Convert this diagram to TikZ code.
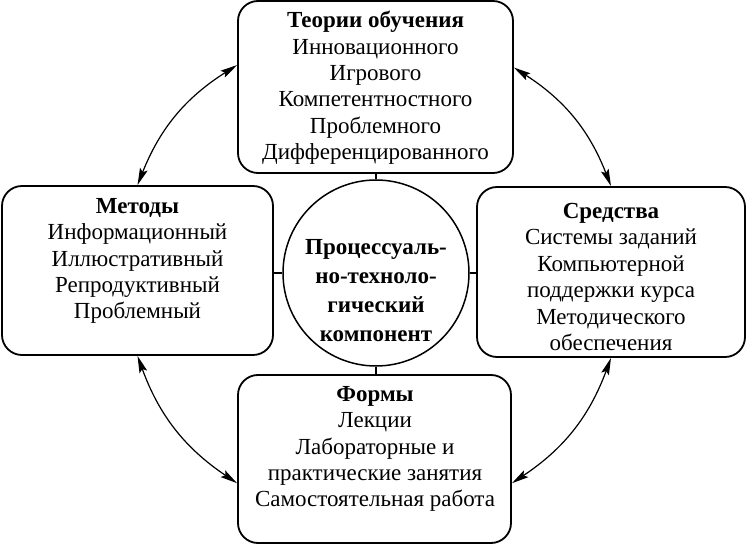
\documentclass[tikz,border=0pt]{standalone}
\usepackage{fontspec}
\setmainfont{Liberation Serif}
\usetikzlibrary{arrows.meta}
\begin{document}
\begin{tikzpicture}[x=1pt,y=-1pt,
  box/.style={draw, line width=1.8pt, rounded corners=20pt, inner sep=0pt},
  txt/.style={font=\fontsize{23}{26.4}\selectfont, align=center, inner sep=0pt},
  ctxt/.style={font=\bfseries\fontsize{23}{29}\selectfont, align=center, inner sep=0pt},
  stub/.style={line width=1.8pt},
  tip/.tip={Stealth[length=17pt,width=8pt,inset=3pt]},
  arr/.style={line width=1.2pt, tip-tip}]
\useasboundingbox (0,0) rectangle (748,545);
\node[box, minimum width=275pt, minimum height=172pt] (top) at (375.5,87) {};
\node[box, minimum width=271pt, minimum height=169pt] (left) at (137.5,270.5) {};
\node[box, minimum width=268pt, minimum height=170pt] (right) at (611,272) {};
\node[box, minimum width=273pt, minimum height=168pt] (bottom) at (374.5,459) {};
\node[draw, circle, line width=1.5pt, minimum size=186pt, inner sep=0pt] (circ) at (376,273) {};

\node[txt] (ttop) at (375.5,88) {\textbf{Теории обучения}\\Инновационного\\Игрового\\Компетентностного\\Проблемного\\Дифференцированного};
\node[txt] (tleft) at (137.5,261) {\textbf{Методы}\\Информационный\\Иллюстративный\\Репродуктивный\\Проблемный};
\node[txt] (tright) at (611,277) {\textbf{Средства}\\Системы заданий\\Компьютерной\\поддержки курса\\Методического\\обеспечения};
\node[txt] (tbottom) at (375,449) {\textbf{Формы}\\Лекции\\Лабораторные и\\практические занятия\\Самостоятельная работа};
\node[ctxt] (tcirc) at (376,291) {Процессуаль-\\но-техноло-\\гический\\компонент};

\draw[stub] (top.south -| circ.north) -- (circ.north);
\draw[stub] (circ.south) -- (circ.south |- bottom.north);
\draw[stub] (circ.west) -- (circ.west -| left.east);
\draw[stub] (circ.east) -- (circ.east -| right.west);

\draw[arr] (top.171.7) to[bend right=18] (left.north);
\draw[arr] (top.8.3) to[bend left=18] (right.north);
\draw[arr] (left.south) to[bend right=18] (bottom.190);
\draw[arr] (right.south) to[bend left=18] (bottom.350);
\end{tikzpicture}
\end{document}
